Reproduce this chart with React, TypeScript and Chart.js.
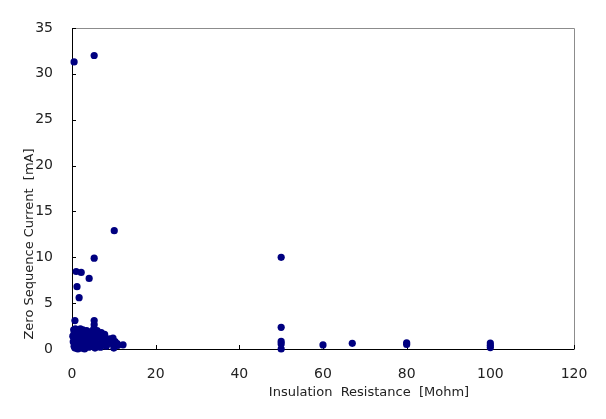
import React, { useEffect, useRef } from "react";
import { Chart, registerables } from "chart.js";

Chart.register(...registerables);

// Insulation resistance [Mohm] (x) and zero sequence current [mA] (y)
const resistanceMohm: number[] = [
  0.5, 5.3, 10.1, 5.3, 50, 1.0, 2.2, 4.1, 1.2, 1.7, 0.7, 5.3, 5.3, 50, 50, 50, 50, 60, 67, 80, 80, 100, 100, 100,
  0.2, 0.3, 0.4, 0.5, 0.5, 0.6, 0.7, 0.8, 0.9, 1.0, 1.0, 1.2, 1.3, 1.4, 1.5, 1.6, 1.8, 2.0, 2.0, 2.2,
  2.3, 2.5, 2.6, 2.8, 3.0, 3.0, 3.2, 3.4, 3.5, 3.7, 4.0, 4.0, 4.2, 4.5, 4.6, 4.8, 5.0, 5.2, 5.3, 5.4,
  5.5, 5.8, 6.0, 6.2, 6.5, 6.8, 7.0, 7.2, 7.5, 7.8, 8.0, 8.2, 8.5, 9.0, 9.3, 9.8, 10.0, 10.3, 10.8, 11.0, 12.2,
];
const currentMa: number[] = [
  31.3, 32.0, 12.9, 9.9, 10.0, 8.45, 8.35, 7.7, 6.8, 5.6, 3.1, 3.1, 2.65, 2.36, 0.83, 0.55, 0.0, 0.44, 0.62, 0.5, 0.68, 0.65, 0.4, 0.15,
  1.4, 0.8, 2.1, 0.3, 1.7, 1.1, 0.1, 2.2, 0.6, 1.5, 0.2, 1.9, 0.9, 0.0, 2.0, 1.3, 0.5, 2.2, 1.0, 0.1,
  1.6, 0.7, 2.1, 1.2, 0.0, 1.8, 0.4, 1.4, 2.0, 0.9, 0.2, 1.7, 1.1, 0.6, 1.9, 1.3, 0.3, 2.2, 0.9, 1.6,
  0.1, 1.2, 2.0, 0.6, 1.5, 0.2, 1.8, 1.0, 0.5, 1.6, 1.2, 0.3, 0.9, 1.1, 0.6, 1.2, 0.1, 0.8, 0.6, 0.4, 0.45,
];

const xTitle = "Insulation  Resistance  [Mohm]";
const yTitle = "Zero Sequence Current  [mA]";
const xMin = 0, xMax = 120, xStep = 20;
const yMin = 0, yMax = 35, yStep = 5;

const FONT = "DejaVu Sans";
const TEXT = "#222";

const framePlugin = {
  id: "frame",
  beforeDatasetsDraw(chart: any) {
    const { ctx, chartArea, scales } = chart;
    const { left, right, top, bottom } = chartArea;
    const x = scales.x, y = scales.y;
    ctx.save();
    ctx.lineWidth = 1;
    ctx.strokeStyle = "#8c8c8c";
    ctx.beginPath();
    ctx.moveTo(left, top + 0.5);
    ctx.lineTo(right + 0.5, top + 0.5);
    ctx.lineTo(right + 0.5, bottom);
    ctx.stroke();
    ctx.strokeStyle = "#000";
    ctx.beginPath();
    ctx.moveTo(left + 0.5, top);
    ctx.lineTo(left + 0.5, bottom + 0.5);
    ctx.lineTo(right + 0.5, bottom + 0.5);
    x.ticks.forEach((t: any) => {
      const px = Math.round(x.getPixelForValue(t.value)) + 0.5;
      ctx.moveTo(px, bottom);
      ctx.lineTo(px, bottom - 4);
    });
    y.ticks.forEach((t: any) => {
      const py = Math.round(y.getPixelForValue(t.value)) + 0.5;
      ctx.moveTo(left, py);
      ctx.lineTo(left + 4, py);
    });
    ctx.stroke();

    ctx.fillStyle = TEXT;
    ctx.font = `13px "${FONT}"`;
    ctx.textAlign = "center";
    ctx.textBaseline = "middle";
    ctx.fillText(xTitle, 369, 393);
    ctx.translate(30, 244);
    ctx.rotate(-Math.PI / 2);
    ctx.fillText(yTitle, 0, 0);
    ctx.restore();
  },
};

export default function App() {
  const ref = useRef<HTMLCanvasElement | null>(null);
  useEffect(() => {
    document.body.style.margin = "0";
    const canvas = ref.current!;
    const points = resistanceMohm.map((v, i) => ({ x: v, y: currentMa[i] }));
    const chart = new Chart(canvas, {
      type: "scatter",
      data: {
        datasets: [
          {
            data: points,
            backgroundColor: "#000080",
            borderColor: "#000080",
            borderWidth: 0,
            pointRadius: 3.6,
            clip: false as any,
          },
        ],
      },
      options: {
        responsive: false,
        animation: false,
        devicePixelRatio: 1,
        layout: { padding: { left: 0, right: 32, top: 28, bottom: 0 } },
        plugins: { legend: { display: false }, tooltip: { enabled: false } },
        scales: {
          x: {
            type: "linear",
            min: xMin,
            max: xMax,
            grid: { display: false },
            border: { display: false },
            ticks: { stepSize: xStep, color: TEXT, padding: 9, font: { family: FONT, size: 14 } },
            afterFit(scale: any) { scale.height = 70; },
          },
          y: {
            type: "linear",
            min: yMin,
            max: yMax,
            grid: { display: false },
            border: { display: false },
            ticks: { stepSize: yStep, color: TEXT, padding: 11, font: { family: FONT, size: 14 } },
            afterFit(scale: any) { scale.width = 72; },
          },
        },
      },
      plugins: [framePlugin],
    });
    return () => chart.destroy();
  }, []);
  return (
    <div style={{ position: "absolute", left: 0, top: 0, width: 606, height: 419, background: "#fff" }}>
      <canvas ref={ref} width={606} height={419} />
    </div>
  );
}
